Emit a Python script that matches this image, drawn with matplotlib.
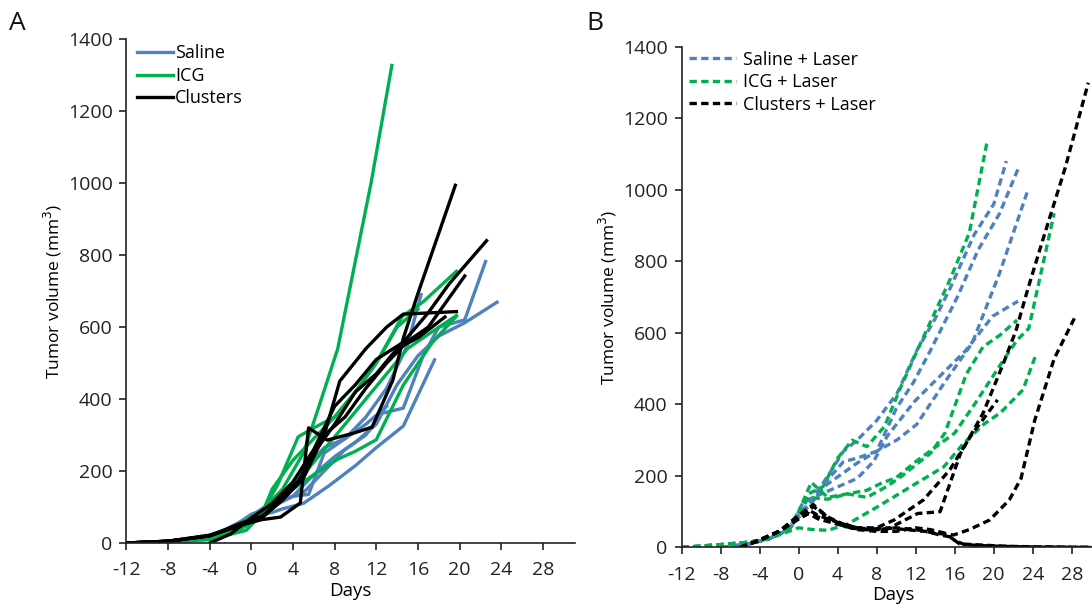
import matplotlib
matplotlib.use("Agg")
import matplotlib.pyplot as plt
from matplotlib.lines import Line2D

plt.rcParams['font.family'] = ['Open Sans', 'DejaVu Sans']
plt.rcParams['axes.unicode_minus'] = False

blue = '#4F81BD'
green = '#00B050'
black = '#000000'

# panel A: untreated groups, one list per mouse
saline_days = [
    [-12, -8, -5, -3, 0, 2, 3, 5, 7.5, 10, 12, 14.6, 17.6],
    [-12, -8, -5, -2, 0, 2, 4, 6, 8, 10, 12, 14, 16, 18, 20.5, 23.6],
    [-11, -8, -4, -1, 1, 3, 5, 7, 9, 11, 12.5, 14.6, 16.5, 18, 20.5, 22.5],
    [-12, -8, -4, -1, 1, 3, 5, 7, 9, 11, 13, 15, 16.3],
    [-12, -8, -4, -1, 1, 2, 4, 5.5, 7, 9, 11, 13],
]
saline_vol = [
    [0, 3, 10, 30, 70, 85, 95, 110, 160, 215, 265, 325, 509],
    [0, 5, 12, 40, 80, 100, 130, 190, 240, 280, 330, 440, 520, 575, 612, 669],
    [0, 5, 15, 50, 90, 120, 140, 200, 260, 300, 360, 375, 520, 600, 620, 782],
    [0, 4, 14, 55, 95, 130, 200, 265, 290, 350, 430, 550, 690],
    [0, 5, 15, 60, 90, 110, 130, 135, 250, 290, 330, 380],
]

icg_days = [
    [-12, -8, -4, -1, 1, 3, 5, 6.5, 8.3, 11.5, 13.5],
    [-12, -8, -4, -1, 1, 2.5, 4.5, 6, 8, 10, 12, 14.5, 16.5, 19.7],
    [-12, -8, -4, -1, 1, 3, 5, 7, 9, 11, 13, 15, 17, 19.7],
    [-12, -8, -4, -0.5, 1, 3, 5.5, 8.3, 10, 12, 14.6, 17.4, 19.7],
    [-12, -8, -4, -1, 1, 2, 4, 6, 8, 10, 12, 14, 16],
]
icg_vol = [
    [0, 3, 15, 55, 90, 150, 250, 380, 540, 1000, 1327],
    [0, 3, 12, 45, 85, 160, 295, 320, 350, 420, 500, 630, 670, 755],
    [0, 4, 10, 40, 70, 120, 190, 260, 330, 400, 470, 540, 580, 632],
    [0, 2, 10, 35, 80, 130, 180, 233, 255, 287, 439, 558, 630],
    [0, 4, 12, 50, 80, 150, 230, 290, 350, 420, 500, 600, 650],
]

clusters_days = [
    [-12, -8, -4, -1, 1, 2.8, 4.7, 5.5, 7.3, 9.8, 11.6, 13.6, 14.6, 16, 19.6],
    [-4, -2, 0, 2, 4, 6, 8, 10, 12, 14.6, 17, 19, 22.6],
    [-12, -8, -4, -1, 1, 3, 5, 7, 8.5, 11, 13, 14.6, 19.7],
    [-12, -8, -4, -1, 1, 3, 5, 7, 9, 11, 13, 15, 17, 20.5],
    [-12, -8, -4, -1, 1, 3, 4.5, 6, 8, 10, 12, 14, 16, 18.6],
]
clusters_vol = [
    [0, 5, 20, 50, 65, 72, 111, 320, 286, 305, 322, 453, 569, 693, 994],
    [0, 25, 70, 110, 170, 260, 380, 440, 510, 558, 640, 720, 840],
    [0, 5, 20, 55, 75, 120, 190, 300, 450, 540, 600, 636, 643],
    [0, 5, 22, 50, 70, 120, 180, 300, 350, 430, 500, 560, 600, 742],
    [0, 5, 20, 50, 70, 130, 170, 250, 330, 420, 470, 540, 570, 628],
]

# panel B: laser treated groups
saline_l_days = [
    [-8, -5, -3, -1, 0, 1.5, 3, 4.6, 6, 8, 10.1, 12.1, 14, 15.6, 18, 20, 21.3],
    [-8, -5, -3, -1, 0, 1.5, 3, 4.6, 6, 8, 10, 11.8, 13.5, 16.3, 18.4, 20.6, 22.5],
    [-8, -5, -3, -1, 0, 1.5, 2.9, 6, 8, 10.1, 12.1, 15, 17.8, 20.6, 23.5],
    [-8, -5, -3, -1, 0.5, 3.2, 6, 7.7, 9.1, 11.9, 14.7, 17.1, 19.9, 22.5],
]
saline_l_vol = [
    [0, 10, 25, 50, 90, 140, 200, 269, 300, 355, 431, 550, 640, 729, 875, 960, 1081],
    [0, 10, 25, 50, 85, 130, 190, 240, 250, 269, 388, 463, 550, 702, 832, 934, 1059],
    [0, 10, 25, 50, 85, 139, 176, 236, 269, 301, 344, 463, 572, 767, 999],
    [0, 10, 25, 50, 128, 160, 193, 241, 312, 409, 485, 550, 647, 689],
]

icg_l_days = [
    [-12, -8, -5, -3, -1, 0, 1, 2.5, 4, 5.5, 7, 8.8, 10.5, 12.5, 15.5, 17.5, 19.3],
    [-12, -8, -5, -3, -1, 0, 1.3, 3, 5, 7, 8.5, 10, 12, 14, 16, 18.1, 21, 22.4, 23.6, 26.2],
    [-12, -8, -5, -3, -1, 0, 1.5, 3, 5, 8.1, 11.5, 14.9, 16.9, 19, 20.7, 23, 24.3],
    [-12, -8, -5, -3, -1, 0, 1, 3, 5, 7, 9, 10.5, 13.5, 15, 17.2, 18.9, 20.6, 22.4],
]
icg_l_vol = [
    [0, 8, 15, 25, 50, 90, 150, 170, 250, 300, 282, 338, 450, 571, 748, 880, 1132],
    [0, 8, 15, 25, 50, 100, 182, 140, 150, 160, 180, 195, 240, 280, 320, 403, 524, 580, 613, 935],
    [0, 8, 15, 25, 45, 55, 50, 48, 65, 114, 170, 226, 291, 345, 377, 441, 537],
    [0, 8, 15, 25, 50, 90, 140, 135, 150, 140, 170, 198, 263, 320, 485, 561, 593, 636],
]

clusters_l_days = [
    [-6, -4, -2, 0, 1, 2, 4, 6, 8, 9.8, 12.8, 15.5, 17.6, 20.4],
    [-6, -4, -2, 0, 1, 1.5, 3, 5, 7, 9, 12.2, 14.5, 16.6, 18.9, 21, 22.3, 23.5, 25.2, 27.3, 29.7],
    [-6, -4, -2, 0, 1, 2, 4, 6, 8, 10, 12, 14, 15.9, 17.5, 19.6, 21.6, 22.8, 24.2, 26.2, 28.4],
    [-6, -4, -2, 0, 1, 1.5, 3, 5, 7, 9, 11, 13, 14.5, 15.5, 16.5, 18, 20, 22, 24, 26, 28, 30],
    [-6, -4, -2, 0, 1, 2, 4, 6, 8, 10, 12, 13.5, 15, 16, 17, 19, 21, 23, 25, 27, 30],
]
clusters_l_vol = [
    [0, 20, 45, 85, 105, 90, 70, 55, 55, 77, 133, 217, 310, 413],
    [0, 20, 45, 90, 110, 120, 85, 60, 50, 50, 95, 100, 263, 375, 515, 608, 723, 875, 1059, 1300],
    [0, 20, 45, 80, 95, 85, 70, 55, 50, 55, 50, 40, 35, 50, 77, 133, 193, 355, 528, 648],
    [0, 20, 45, 85, 100, 115, 85, 55, 50, 55, 50, 45, 35, 30, 10, 8, 5, 3, 2, 2, 1, 1],
    [0, 22, 45, 80, 95, 80, 65, 50, 45, 45, 55, 50, 40, 20, 8, 5, 3, 2, 1, 1, 0],
]

xticks = list(range(-12, 29, 4))
yticks = list(range(0, 1401, 200))

fig = plt.figure(figsize=(10.92, 6.1), dpi=100)
axA = fig.add_axes([0.1158, 0.1098, 0.4108, 0.826])
axB = fig.add_axes([0.6241, 0.1025, 0.3886, 0.8205])


def style(ax, xmax):
    ax.set_xlim(-12, xmax)
    ax.set_ylim(0, 1400)
    ax.set_xticks(xticks)
    ax.set_yticks(yticks)
    for s in ['top', 'right']:
        ax.spines[s].set_visible(False)
    for s in ['left', 'bottom']:
        ax.spines[s].set_linewidth(1.2)
        ax.spines[s].set_color('#222222')
    ax.tick_params(direction='out', length=5, width=1.2, labelsize=14,
                   colors='#222222')
    ax.tick_params(axis='x', pad=8)
    ax.tick_params(axis='y', pad=5)
    ax.set_xlabel('Days', fontsize=13.5, labelpad=2)
    ax.set_ylabel('Tumor volume (mm$^3$)', fontsize=12.5, labelpad=3)


lw = 2.4
for d, v in zip(saline_days, saline_vol):
    axA.plot(d, v, color=blue, lw=lw)
for d, v in zip(icg_days, icg_vol):
    axA.plot(d, v, color=green, lw=lw)
for d, v in zip(clusters_days, clusters_vol):
    axA.plot(d, v, color=black, lw=lw)

dash = (2.2, 1.3)
for d, v in zip(saline_l_days, saline_l_vol):
    axB.plot(d, v, color=blue, lw=lw, dashes=dash)
for d, v in zip(icg_l_days, icg_l_vol):
    axB.plot(d, v, color=green, lw=lw, dashes=dash)
for d, v in zip(clusters_l_days, clusters_l_vol):
    axB.plot(d, v, color=black, lw=lw, dashes=dash)

style(axA, 31.1)
style(axB, 31.5)

hA = [Line2D([], [], color=c, lw=lw) for c in (blue, green, black)]
axA.legend(hA, ['Saline', 'ICG', 'Clusters'], loc='upper left',
           bbox_to_anchor=(-0.012, 1.022), frameon=False, fontsize=13,
           handlelength=2.0, handletextpad=0.1, labelspacing=0.25)
hB = [Line2D([], [], color=c, lw=lw, dashes=dash) for c in (blue, green, black)]
axB.legend(hB, ['Saline + Laser', 'ICG + Laser', 'Clusters + Laser'],
           loc='upper left', bbox_to_anchor=(-0.02, 1.025), frameon=False,
           fontsize=13, handlelength=2.6, handletextpad=0.35, labelspacing=0.25)

fig.text(0.008, 0.95, 'A', fontsize=19, color='#111111')
fig.text(0.537, 0.95, 'B', fontsize=19, color='#111111')

fig.savefig('out.png', dpi=100)
